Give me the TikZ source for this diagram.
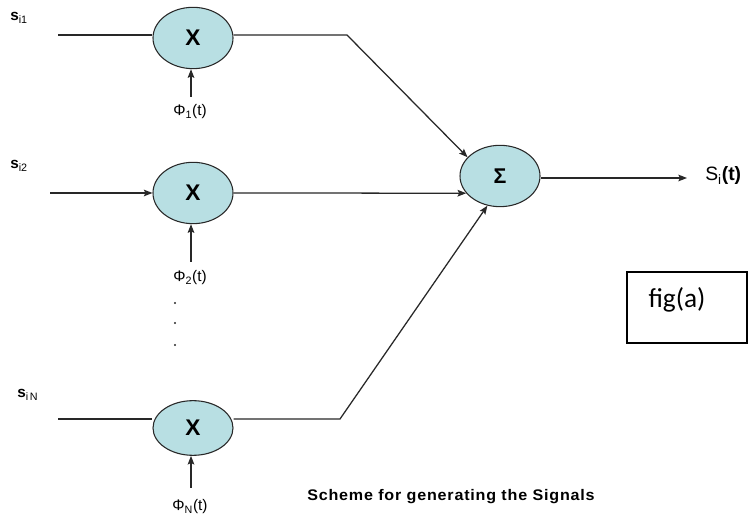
\documentclass[tikz,border=0pt]{standalone}
\usepackage{fontspec}
\setmainfont{Liberation Sans}
\newfontfamily\figfont{Carlito}
\usetikzlibrary{shapes.geometric,arrows.meta}
\definecolor{multfill}{RGB}{184,223,227}
\definecolor{wire}{RGB}{40,40,40}
\begin{document}
\begin{tikzpicture}[x=0.75pt,y=-0.75pt,
  mult/.style={ellipse, draw=wire, fill=multfill, line width=0.8pt,
    minimum width=60pt, minimum height=46pt, inner sep=0pt,
    font=\bfseries\fontsize{17}{19}\selectfont},
  sig/.style={draw=wire, line width=0.95pt},
  tip/.style={-{Stealth[length=6.5pt,width=5pt,inset=1.2pt]}},
  lbl/.style={inner sep=0pt, font=\fontsize{11.5}{13}\selectfont},
  phil/.style={inner sep=0pt, font=\fontsize{11.5}{13}\selectfont},
]
\useasboundingbox (0,0) rectangle (750,523);

% multipliers and the summing junction
\node[mult] (m1) at (193,38) {X};
\node[mult] (m2) at (193,193) {X};
\node[mult, minimum height=41pt] (mN) at (193,428) {X};
\node[mult, font=\bfseries\fontsize{16}{18}\selectfont] (sum) at (500,176) {Σ};

% input signal labels
\node[lbl, anchor=west] (s1) at (10,18) {\textbf{s}\textsubscript{i1}};
\node[lbl, anchor=west] (s2) at (10,166) {\textbf{s}\textsubscript{i2}};
\node[lbl, anchor=west] (sN) at (17,395) {\textbf{s}\textsubscript{i\,N}};

% input wires
\coordinate (in1) at (58,35);
\coordinate (in2) at (50,193);
\coordinate (inN) at (58,419);
\draw[sig] (in1) -- (m1.west |- in1);
\draw[sig, tip] (in2) -- (m2.west);
\draw[sig] (inN) -- (mN.west |- inN);

% basis functions
\coordinate (p1) at (191,97);
\coordinate (p2) at (191,262);
\coordinate (pN) at (191,488);
\draw[sig, tip] (p1) -- (p1 |- m1.south);
\draw[sig, tip] (p2) -- (p2 |- m2.south);
\draw[sig, tip] (pN) -- (pN |- mN.south);
\node[phil] (f1) at (190,112) {Φ\textsubscript{1}(t)};
\node[phil] (f2) at (190,278) {Φ\textsubscript{2}(t)};
\node[phil] (fN) at (190,507) {Φ\textsubscript{N}(t)};

% vertical ellipsis
\foreach \yy in {303,323,345} \fill[wire] (175,\yy) circle (1.2);

% products to the summer
\coordinate (k1) at (347,35);
\coordinate (kN) at (340,419);
\draw[sig, tip] (m1.east |- in1) -- (k1) -- (sum.150);
\draw[sig, tip] (m2.east) -- (sum.207);
\draw[sig, tip] (mN.east |- inN) -- (kN) -- (sum.247);

% output
\coordinate (out) at (687,178);
\draw[sig, tip] (sum.east |- out) -- (out);
\node[inner sep=0pt, anchor=west, font=\fontsize{14.5}{16}\selectfont] (si) at (705,176)
  {S\textsubscript{i}\textbf{(t)}};

% figure tag
\node[draw=black, line width=1.4pt, minimum width=90pt, minimum height=53pt] (tag) at (687,307.5) {};
\node[inner sep=0pt, font=\figfont\fontsize{20.5}{23}\selectfont] (tagtxt) at (677,300) {fig(a)};

% caption
\node[inner sep=0pt, anchor=west, xscale=1.05,
  font=\bfseries\fontsize{11.5}{13}\selectfont] (cap) at (307,497)
  {\addfontfeatures{LetterSpace=5}Scheme for generating the Signals};
\end{tikzpicture}
\end{document}
